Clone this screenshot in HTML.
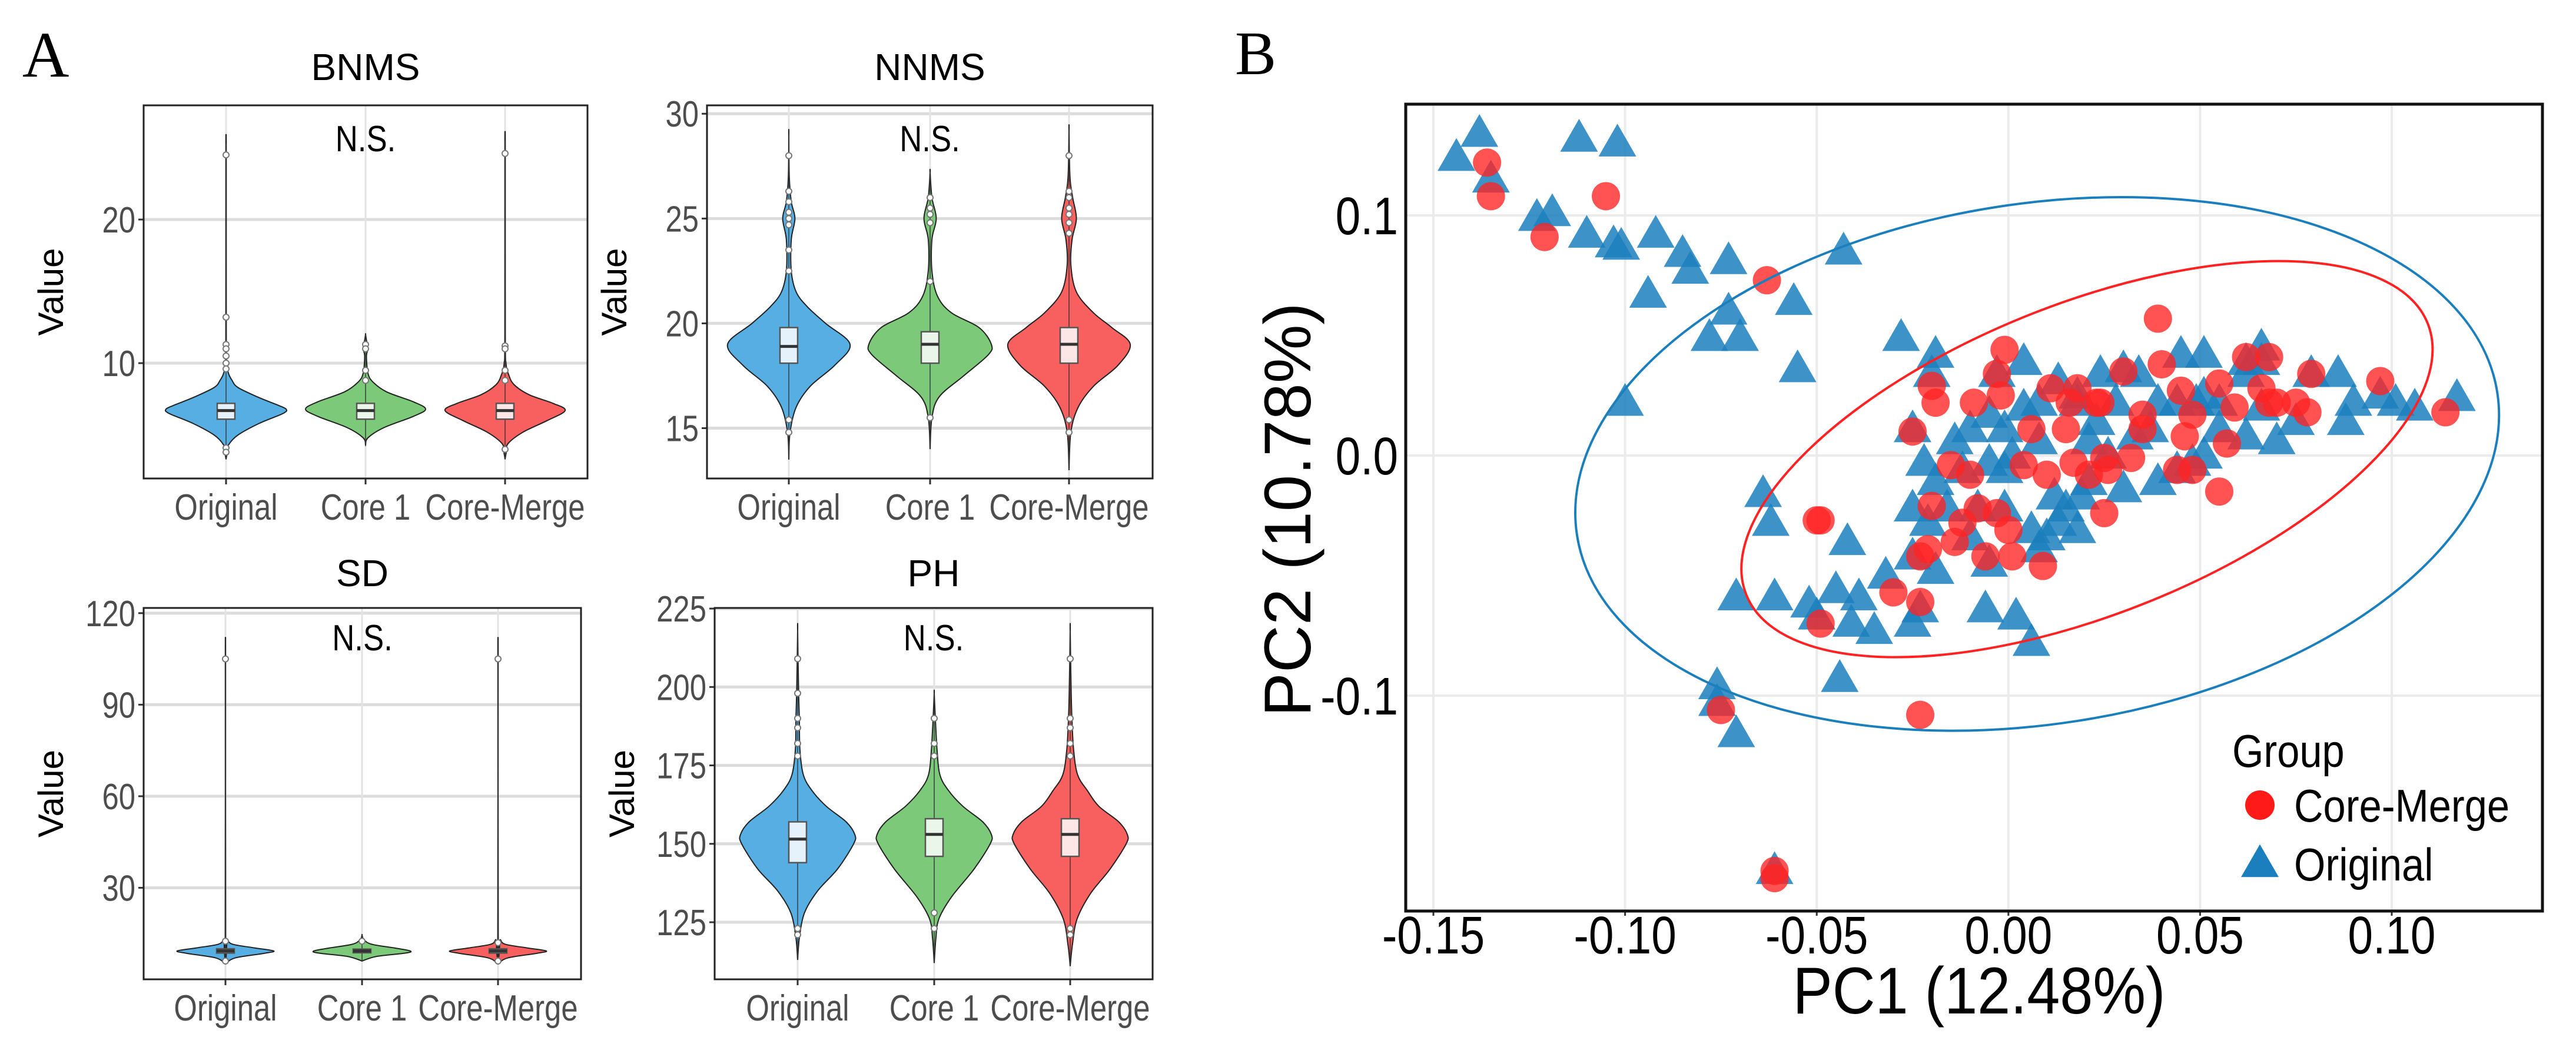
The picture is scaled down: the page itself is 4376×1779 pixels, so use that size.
<!DOCTYPE html>
<html><head><meta charset="utf-8">
<style>
html,body{margin:0;padding:0;background:#fff;}
svg{display:block;}
text{font-family:"Liberation Sans",sans-serif;}
</style></head>
<body>
<svg id="fig" width="4376" height="1779" viewBox="0 0 4376 1779" xmlns="http://www.w3.org/2000/svg">
<rect x="0" y="0" width="4376" height="1779" fill="#fff"/>
<text x="38" y="130" font-size="110" style="font-family:'Liberation Serif',serif">A</text>
<text x="2098" y="126" font-size="105" style="font-family:'Liberation Serif',serif">B</text>
<g id="panelA"></g>
<g id="panelB"></g>
</svg>
<script>
const NS='http://www.w3.org/2000/svg';
// ---------- Panel A data ----------
const groups=['Original','Core 1','Core-Merge'];
const groupColors=['#56aee3','#7cc97a','#f86060'];
const boxFills=['#e6f2fb','#eaf6ea','#fde6e6'];
const panelTitles=['BNMS','NNMS','SD','PH'];
const bnmsTicks=[10,20];
const nnmsTicks=[15,20,25,30];
const sdTicks=[30,60,90,120];
const phTicks=[125,150,175,200,225];
// violin profiles: [value, relative half-width]
const bnmsOriginal=[[3.3,0],[3.8,0.02],[4.3,0.04],[5,0.2],[5.8,0.55],[6.5,0.95],[6.8,1],[7.1,0.85],[7.6,0.55],[8.3,0.2],[8.8,0.1],[9.3,0.04],[10,0.015],[12,0.004],[24.8,0.003],[25.3,0]];
const bnmsCore1=[[4.3,0],[4.8,0.04],[5.5,0.3],[6.3,0.8],[6.8,1],[7.3,0.8],[8,0.35],[8.7,0.12],[9.3,0.04],[10.5,0.015],[11,0.04],[11.6,0.015],[12,0]];
const bnmsMerge=[[3.3,0],[3.8,0.02],[4.4,0.05],[5.2,0.3],[6,0.7],[6.7,1],[7.2,0.8],[7.8,0.4],[8.5,0.15],[9.2,0.06],[10,0.015],[12,0.004],[25,0.003],[25.5,0]];
const nnmsOriginal=[[13.5,0],[14.8,0.02],[16,0.12],[17,0.35],[18,0.75],[19,1],[20,0.6],[20.8,0.3],[21.5,0.12],[22.5,0.04],[24,0.04],[25,0.1],[25.8,0.04],[27,0.008],[29,0]];
const nnmsCore1=[[14,0],[15.5,0.03],[16.5,0.15],[17.5,0.55],[18.5,0.95],[19,1],[19.8,0.8],[20.5,0.35],[21.3,0.12],[22.5,0.03],[24,0.03],[25,0.1],[26,0.03],[27.2,0]];
const nnmsMerge=[[13,0],[14.8,0.03],[16,0.15],[17,0.4],[18,0.8],[19,1],[19.8,0.7],[20.5,0.4],[21.5,0.12],[22.8,0.03],[24,0.05],[25,0.12],[26,0.06],[27,0.015],[29.2,0]];
const sdOriginal=[[5,0],[7,0.2],[8.5,0.8],[9.3,1],[10.3,0.6],[11.5,0.15],[13,0.04],[14,0.005],[105,0.003],[106,0]];
const sdCore1=[[6,0],[7.5,0.3],[8.6,0.9],[9.3,1],[10.2,0.7],[11.5,0.2],[13,0.04],[14.5,0]];
const sdMerge=[[5,0],[7,0.2],[8.5,0.8],[9.3,1],[10.3,0.6],[11.5,0.15],[13,0.05],[14.5,0.005],[105,0.003],[106,0]];
const phOriginal=[[113,0],[120,0.03],[128,0.12],[135,0.35],[142,0.7],[150,0.98],[153,1],[157,0.85],[162,0.5],[167,0.25],[172,0.1],[180,0.04],[190,0.03],[200,0.015],[218,0]];
const phCore1=[[112,0],[120,0.03],[126,0.08],[133,0.3],[142,0.7],[150,0.98],[153,1],[157,0.85],[162,0.5],[167,0.25],[172,0.1],[180,0.05],[190,0.02],[198,0]];
const phMerge=[[111,0],[118,0.04],[126,0.12],[134,0.35],[142,0.7],[150,0.98],[153,1],[157,0.85],[162,0.5],[167,0.3],[172,0.13],[180,0.06],[190,0.03],[200,0.015],[218,0]];
// box stats [q1, median, q3]
const bnmsBox=[[6.1,6.7,7.2],[6.1,6.7,7.2],[6.1,6.7,7.2]];
const nnmsBox=[[18.1,18.9,19.8],[18.1,19.0,19.6],[18.1,19.0,19.8]];
const sdBox=[[8.6,9.3,10],[8.7,9.3,9.9],[8.6,9.3,10]];
const phBox=[[144,151.5,157],[146,153,158],[146,153,158]];
// outliers
const bnmsOut=[[24.5,13.2,11.3,11,10.5,10,9.6,4.1,3.8],[11.3,11,9.5,8.8],[24.6,11.2,11,9.5,8.8,4]];
const nnmsOut=[[28,26.3,25.8,25.3,25,24.7,23.5,22.5,15.4,14.8],[26,25.5,25.2,24.8,22,15.5],[28,26.3,26,25.5,25.2,24.8,24.3,15.4,14.8]];
const sdOut=[[105,12.5,6],[12.5],[105,12,6]];
const phOut=[[209,198,190,187,182,178,121,123],[190,182,178,128,123],[209,190,187,182,178,178,123,121]];

// panel geometry (layout, not data)
const panels=[
 {title:panelTitles[0],x0:244,x1:998,y0:179,y1:813,vmin:1.97,vmax:27.95,ticks:bnmsTicks,viol:[bnmsOriginal,bnmsCore1,bnmsMerge],box:bnmsBox,out:bnmsOut,cx:[384,621,858],ty:112,nsy:235,hw:102},
 {title:panelTitles[1],x0:1201,x1:1958,y0:179,y1:813,vmin:12.6,vmax:30.4,ticks:nnmsTicks,viol:[nnmsOriginal,nnmsCore1,nnmsMerge],box:nnmsBox,out:nnmsOut,cx:[1340,1580,1816],ty:112,nsy:235,hw:104},
 {title:panelTitles[2],x0:244,x1:987,y0:1033,y1:1664,vmin:0,vmax:121.7,ticks:sdTicks,viol:[sdOriginal,sdCore1,sdMerge],box:sdBox,out:sdOut,cx:[383,615,846],ty:972,nsy:1083,hw:82},
 {title:panelTitles[3],x0:1214,x1:1958,y0:1033,y1:1664,vmin:106.8,vmax:225.2,ticks:phTicks,viol:[phOriginal,phCore1,phMerge],box:phBox,out:phOut,cx:[1355,1587,1818],ty:972,nsy:1083,hw:97}
];
function el(tag,attrs,parent){const e=document.createElementNS(NS,tag);for(const k in attrs)e.setAttribute(k,attrs[k]);parent.appendChild(e);return e;}
const A=document.getElementById('panelA');
panels.forEach((p,pi)=>{
 const g=el('g',{},A);
 
 
 const ys=v=>p.y1-(v-p.vmin)/(p.vmax-p.vmin)*(p.y1-p.y0);
 p.ticks.forEach(t=>{
  const l=el('line',{x1:p.x0,x2:p.x1,y1:ys(t),y2:ys(t),stroke:'#dcdcdc','stroke-width':5},g);
  
  
  const tk=el('line',{x1:p.x0-9,x2:p.x0,y1:ys(t),y2:ys(t),stroke:'#333','stroke-width':3},g);
  
  
  const tx=el('text',{x:p.x0-14,y:ys(t)+22,'text-anchor':'end','font-size':62,fill:'#4d4d4d',transform:`translate(${p.x0-14},0) scale(0.82,1) translate(${-(p.x0-14)},0)`},g);
  tx.textContent=t;
  
  
 });
 p.cx.forEach((c,gi)=>{
  const l=el('line',{x1:c,x2:c,y1:p.y0,y2:p.y1,stroke:'#e3e3e3','stroke-width':3},g);
  
  
 });
 p.viol.forEach((prof,gi)=>{
  const c=p.cx[gi];
  let right=prof.map(([v,w])=>[c+w*p.hw,ys(v)]);
  let left=prof.slice().reverse().map(([v,w])=>[c-w*p.hw,ys(v)]);
  const pts=right.concat(left);
  const path=el('path',{d:smooth(pts),fill:groupColors[gi],stroke:'#222','stroke-width':2},g);
  
  
  const lo=prof[0][0],hi=prof[prof.length-1][0];
  const wl=el('line',{x1:c,x2:c,y1:ys(lo),y2:ys(hi),stroke:'#333','stroke-width':2,'stroke-opacity':0.7},g);
  
  
  const b=p.box[gi];
  const br=el('rect',{x:c-15,y:ys(b[2]),width:30,height:ys(b[0])-ys(b[2]),fill:boxFills[gi],stroke:'#555','stroke-width':2.5},g);
  
  
  const md=el('line',{x1:c-15,x2:c+15,y1:ys(b[1]),y2:ys(b[1]),stroke:'#333','stroke-width':5},g);
  
  
  p.out[gi].forEach(v=>{
   const o=el('circle',{cx:c,cy:ys(v),r:5,fill:'#fff',stroke:'#777','stroke-width':2},g);
   
   
  });
  const xt=el('line',{x1:c,x2:c,y1:p.y1,y2:p.y1+10,stroke:'#333','stroke-width':3},g);
  
  
  const lab=el('text',{x:c,y:p.y1+70,'text-anchor':'middle','font-size':62,fill:'#4d4d4d',transform:`translate(${c},0) scale(0.82,1) translate(${-c},0)`},g);
  lab.textContent=groups[gi];
  
  
 });
 const fr=el('rect',{x:p.x0,y:p.y0,width:p.x1-p.x0,height:p.y1-p.y0,fill:'none',stroke:'#222','stroke-width':3},g);
 
 
 const mid=(p.x0+p.x1)/2;
 const t=el('text',{x:mid,y:p.ty+24,'text-anchor':'middle','font-size':64,fill:'#000'},g);
 t.textContent=p.title;
 
 
 const ns=el('text',{x:mid,y:p.nsy+22,'text-anchor':'middle','font-size':62,fill:'#000',transform:`translate(${mid},0) scale(0.85,1) translate(${-mid},0)`},g);
 ns.textContent='N.S.';
 
 
 const yl=(p.y0+p.y1)/2, xl=p.x0-157;
 const vt=el('text',{x:xl,y:yl,'text-anchor':'middle','font-size':60,fill:'#000',transform:`rotate(-90 ${xl} ${yl})`,dy:20},g);
 vt.textContent='Value';
 
 
});
function smooth(pts){
 let d='M'+pts[0][0].toFixed(1)+' '+pts[0][1].toFixed(1);
 for(let i=0;i<pts.length-1;i++){
  const p0=pts[Math.max(0,i-1)],p1=pts[i],p2=pts[i+1],p3=pts[Math.min(pts.length-1,i+2)];
  const c1=[p1[0]+(p2[0]-p0[0])/6,p1[1]+(p2[1]-p0[1])/6];
  const c2=[p2[0]-(p3[0]-p1[0])/6,p2[1]-(p3[1]-p1[1])/6];
  d+=` C${c1[0].toFixed(1)} ${c1[1].toFixed(1)} ${c2[0].toFixed(1)} ${c2[1].toFixed(1)} ${p2[0].toFixed(1)} ${p2[1].toFixed(1)}`;
 }
 return d+'Z';
}

// ---------- Panel B data ----------
const pcXTicks=[-0.15,-0.10,-0.05,0.00,0.05,0.10];
const pcXTickLabels=['-0.15','-0.10','-0.05','0.00','0.05','0.10'];
const pcYTicks=[-0.1,0.0,0.1];
const pcYTickLabels=['-0.1','0.0','0.1'];
const originalPC1=[-0.144,-0.138,-0.135,-0.112,-0.102,-0.123,-0.119,-0.110,-0.103,-0.101,-0.092,-0.085,-0.083,-0.073,-0.094,-0.043,-0.056,-0.073,-0.078,-0.070,-0.055,-0.100,-0.028,-0.019,-0.020,-0.025,-0.064,-0.062,-0.042,-0.071,-0.061,-0.052,-0.045,-0.039,-0.032,-0.050,-0.041,-0.035,-0.025,-0.023,-0.044,-0.076,-0.076,-0.071,-0.061,-0.022,-0.019,-0.025,-0.016,-0.010,-0.005,-0.006,0.002,0.006,-0.025,-0.019,-0.010,-0.005,-0.001,0.004,0.008,0.013,0.018,0.023,0.028,0.033,0.039,0.044,0.049,0.051,0.055,0.062,0.066,0.066,0.079,0.086,0.090,0.101,0.106,0.117,0.075,0.070,0.062,0.051,0.044,0.039,0.030,0.021,0.015,0.013,0.010,0.018,0.006,-0.001,0.001,0.008,-0.005,-0.012,0.034,0.030,0.045,0.051,0.062,0.024,0.018,0.037,0.055,0.066,0.097,0.088,0.004,-0.003,-0.014,-0.021,0.012,0.019,0.008,0.021,0.048,0.026,-0.008,-0.001];
const originalPC2=[0.124,0.134,0.115,0.132,0.130,0.099,0.101,0.092,0.088,0.087,0.092,0.084,0.077,0.081,0.067,0.085,0.064,0.060,0.049,0.049,0.036,0.022,0.049,0.042,0.034,0.011,-0.016,-0.028,-0.036,-0.059,-0.059,-0.062,-0.056,-0.059,-0.050,-0.067,-0.070,-0.073,-0.070,-0.064,-0.093,-0.096,-0.103,-0.116,-0.173,-0.003,-0.011,-0.022,-0.022,-0.034,-0.045,-0.064,-0.067,-0.078,-0.042,-0.048,0.011,0.017,0.011,0.020,0.022,0.031,0.022,0.014,0.022,0.008,0.022,0.022,0.022,0.025,0.022,0.034,0.039,0.045,0.034,0.034,0.022,0.022,0.020,0.024,0.014,0.006,0.008,0.000,-0.006,-0.011,-0.014,-0.011,-0.022,-0.028,-0.034,-0.031,-0.031,-0.006,0.000,0.006,-0.003,-0.006,0.034,0.036,0.042,0.042,0.039,0.034,0.025,0.011,0.011,0.020,0.025,0.014,0.039,0.034,0.006,-0.028,-0.017,-0.017,-0.039,0.006,-0.003,0.000,-0.022,-0.022];
const mergePC1=[-0.136,-0.135,-0.105,-0.121,-0.063,0.039,-0.001,-0.003,-0.020,-0.019,-0.009,-0.002,0.011,0.016,0.023,0.030,0.040,0.045,0.055,0.062,0.068,0.079,0.097,0.114,0.068,0.070,0.078,0.057,0.055,0.044,0.048,0.046,0.035,0.032,0.025,0.025,0.017,0.010,0.004,-0.010,-0.015,-0.025,-0.020,-0.008,-0.003,0.000,0.001,0.009,-0.006,-0.012,-0.014,-0.021,-0.023,-0.030,-0.023,-0.049,-0.050,-0.049,-0.075,-0.023,-0.061,-0.061,0.021,0.026,0.015,0.006,0.035,0.059,0.066,0.075,0.048,0.018,0.024];
const mergePC2=[0.122,0.108,0.108,0.091,0.073,0.057,0.044,0.034,0.029,0.022,0.022,0.025,0.028,0.022,0.022,0.035,0.038,0.027,0.030,0.041,0.041,0.034,0.031,0.018,0.022,0.022,0.018,0.005,-0.015,-0.006,-0.006,0.008,0.017,-0.001,-0.001,-0.024,-0.003,-0.008,-0.004,-0.008,-0.004,0.010,-0.021,-0.022,-0.024,-0.031,-0.042,-0.046,-0.042,-0.028,-0.036,-0.039,-0.042,-0.057,-0.061,-0.027,-0.027,-0.070,-0.106,-0.108,-0.173,-0.176,-0.008,-0.006,0.011,0.011,0.011,0.020,0.028,0.022,0.017,0.028,0.022];
const ellipseCenters=[[0.0075,-0.0035],[0.0205,-0.0015]];
const ellipseShapes=[[791,442,-8.8],[623,264,-21.7]];

const B=document.getElementById('panelB');
const bx0=2388,bx1=4319,by0=177,by1=1548;
const xs=v=>2435+(v+0.15)/0.05*325.6;
const ysB=v=>774-v*4080;
let g=el('g',{},B);
pcXTicks.forEach((t,i)=>{
 const l=el('line',{x1:xs(t),x2:xs(t),y1:by0,y2:by1,stroke:'#ebebeb','stroke-width':4},g);
 
 
 const tx=el('text',{x:xs(t),y:1620,'text-anchor':'middle','font-size':90,fill:'#000',transform:`translate(${xs(t)},0) scale(0.85,1) translate(${-xs(t)},0)`},g);
 tx.textContent=pcXTickLabels[i];
 
 
 const tk=el('line',{x1:xs(t),x2:xs(t),y1:by1,y2:by1+8,stroke:'#333','stroke-width':3},g);
 
 
});
pcYTicks.forEach((t,i)=>{
 const l=el('line',{x1:bx0,x2:bx1,y1:ysB(t),y2:ysB(t),stroke:'#ebebeb','stroke-width':4},g);
 
 
 const tx=el('text',{x:2375,y:ysB(t)+32,'text-anchor':'end','font-size':90,fill:'#000',transform:`translate(2375,0) scale(0.85,1) translate(-2375,0)`},g);
 tx.textContent=pcYTickLabels[i];
 
 
});
const ptsG=el('g',{},B);


function tri(x,y,s){const h=s*0.87;return `${x},${y-h*0.6} ${x-s/2},${y+h*0.4} ${x+s/2},${y+h*0.4}`;}
originalPC1.forEach((v,i)=>{
 const t=el('polygon',{points:tri(xs(v),ysB(originalPC2[i]),64),fill:'#1b7fbd','fill-opacity':0.85},ptsG);
 
 
});
mergePC1.forEach((v,i)=>{
 const c=el('circle',{cx:xs(v),cy:ysB(mergePC2[i]),r:24,fill:'#ff2222','fill-opacity':0.78},ptsG);
 
 
});
const ellColors=['#1b7fbd','#ff2222'];
const ellNames=['original-ellipse','core-merge-ellipse'];
ellipseCenters.forEach((c,i)=>{
 const s=ellipseShapes[i];
 const e=el('ellipse',{cx:xs(c[0]),cy:ysB(c[1]),rx:s[0],ry:s[1],fill:'none',stroke:ellColors[i],'stroke-width':4,transform:`rotate(${s[2]} ${xs(c[0])} ${ysB(c[1])})`},B);
 
 
});
const fr=el('rect',{x:bx0,y:by0,width:bx1-bx0,height:by1-by0,fill:'none',stroke:'#111','stroke-width':5},B);


const xt=el('text',{x:3362,y:1722,'text-anchor':'middle','font-size':112,fill:'#000',transform:'translate(3362,0) scale(0.9,1) translate(-3362,0)'},B);
xt.textContent='PC1 (12.48%)';


const ytl=el('text',{x:2188,y:866,'text-anchor':'middle','font-size':112,fill:'#000',dy:38,transform:'rotate(-90 2188 866)'},B);
ytl.textContent='PC2 (10.78%)';


const lg=el('g',{},B);


const lt=el('text',{x:3792,y:1303,'font-size':78,fill:'#000',transform:'translate(3792,0) scale(0.88,1) translate(-3792,0)'},lg);
lt.textContent='Group';


const lc=el('circle',{cx:3839,cy:1368,r:25,fill:'#ff1a1a'},lg);


const l1=el('text',{x:3897,y:1396,'font-size':78,fill:'#000',transform:'translate(3897,0) scale(0.88,1) translate(-3897,0)'},lg);
l1.textContent='Core-Merge';


const lt2=el('polygon',{points:tri(3839,1468,64),fill:'#1b7fbd'},lg);


const l2=el('text',{x:3897,y:1496,'font-size':78,fill:'#000',transform:'translate(3897,0) scale(0.88,1) translate(-3897,0)'},lg);
l2.textContent='Original';


</script>
</body></html>
